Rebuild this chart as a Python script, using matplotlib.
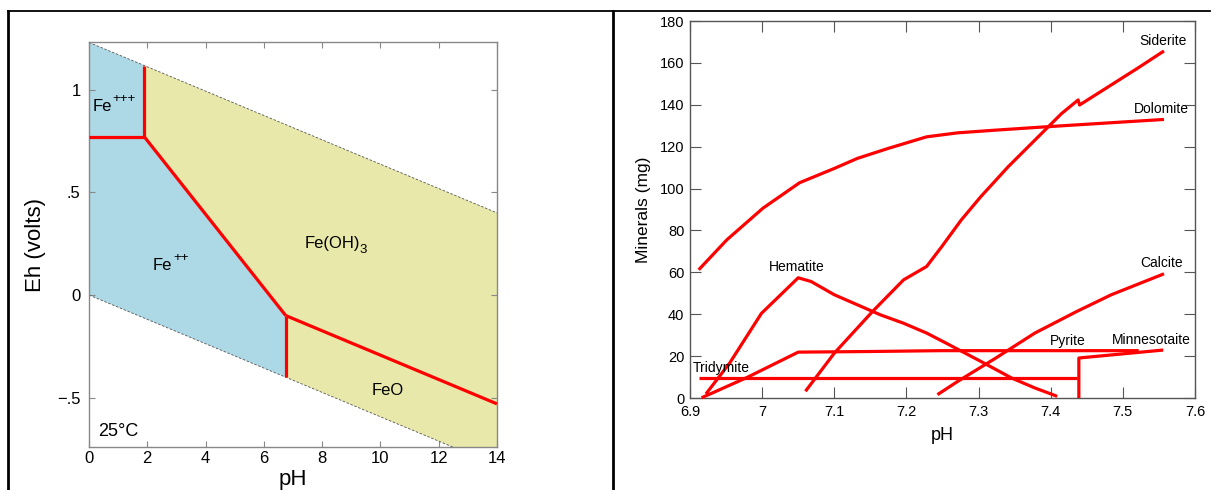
import matplotlib
matplotlib.use("Agg")
import matplotlib.pyplot as plt
from matplotlib.lines import Line2D

plt.rcParams['font.family'] = ['Liberation Sans', 'DejaVu Sans']

# ---------------- Left panel data (Eh-pH diagram of Fe) ----------------
ph_range = [0, 14]
water_upper = [1.23, 0.40]      # O2/H2O line Eh at pH 0 and 14
water_lower = [0.0, -0.83]      # H2/H2O line Eh at pH 0 and 14

fe3_fe2_ph = [0.0, 1.9]
fe3_fe2_eh = [0.77, 0.77]
fe3_feoh3_ph = [1.9, 1.9]
fe3_feoh3_eh = [0.77, 1.117]
fe2_feoh3_ph = [1.9, 6.75]
fe2_feoh3_eh = [0.77, -0.10]
fe2_feo_ph = [6.75, 6.75]
fe2_feo_eh = [-0.10, -0.40]
feoh3_feo_ph = [6.75, 14.0]
feoh3_feo_eh = [-0.10, -0.53]

left_xticks = [0, 2, 4, 6, 8, 10, 12, 14]
left_yticks = [1.0, 0.5, 0.0, -0.5]
left_yticklabels = ['1', '.5', '0', '\u2212.5']

# ---------------- Right panel data (minerals vs pH) ----------------
dolomite_ph = [6.912, 6.951, 7.001, 7.052, 7.100, 7.132, 7.175, 7.228, 7.271, 7.324, 7.394, 7.431, 7.557]
dolomite_mg = [61.2, 75.5, 90.6, 102.8, 109.6, 114.4, 119.2, 124.7, 126.6, 127.9, 129.5, 130.3, 133.0]

siderite_ph = [7.060, 7.100, 7.153, 7.196, 7.228, 7.249, 7.276, 7.303, 7.341, 7.378, 7.415, 7.438, 7.440, 7.484, 7.522, 7.557]
siderite_mg = [3.2, 21.4, 41.3, 56.4, 62.8, 72.3, 85.0, 96.1, 110.4, 123.1, 135.8, 142.3, 139.9, 149.5, 157.8, 165.7]

hematite_ph = [6.922, 6.955, 6.999, 7.050, 7.068, 7.100, 7.164, 7.196, 7.228, 7.255, 7.303, 7.346, 7.378, 7.409]
hematite_mg = [1.9, 16.7, 40.4, 57.4, 55.6, 49.3, 39.7, 35.7, 31.0, 26.2, 17.5, 9.5, 4.8, 0.8]

pyrite_ph = [6.916, 6.979, 7.050, 7.150, 7.247, 7.522]
pyrite_mg = [0.1, 9.8, 21.9, 22.2, 22.6, 22.6]

minnesotaite_ph = [7.439, 7.439, 7.556]
minnesotaite_mg = [0.0, 19.1, 22.9]

tridymite_ph = [6.912, 7.437]
tridymite_mg = [9.5, 9.5]

calcite_ph = [7.243, 7.271, 7.324, 7.378, 7.436, 7.484, 7.557]
calcite_mg = [1.6, 7.9, 19.1, 31.0, 41.3, 49.3, 59.3]

right_xticks = [6.9, 7.0, 7.1, 7.2, 7.3, 7.4, 7.5, 7.6]
right_xticklabels = ['6.9', '7', '7.1', '7.2', '7.3', '7.4', '7.5', '7.6']
right_yticks = [0, 20, 40, 60, 80, 100, 120, 140, 160, 180]

# ---------------- Figure ----------------
W, H = 1213, 490
fig = plt.figure(figsize=(W / 100, H / 100), dpi=100)

# table-like frame lines
fig.add_artist(Line2D([8 / W, 1210 / W], [1 - 11 / H, 1 - 11 / H], color='black', lw=1.3))
fig.add_artist(Line2D([8 / W, 8 / W], [0, 1 - 11 / H], color='black', lw=2.0))
fig.add_artist(Line2D([613 / W, 613 / W], [0, 1 - 11 / H], color='black', lw=2.0))

RED = '#ff0000'
BLUE = '#add8e6'
YELLOW = '#e8e8aa'

# ---- left axes ----
ax1 = fig.add_axes([89 / W, 1 - 447 / H, (497 - 89) / W, (447 - 42) / H])
ax1.set_xlim(0, 14)
ax1.set_ylim(-0.74, 1.232)

def upper(p):
    return water_upper[0] + (water_upper[1] - water_upper[0]) * p / 14.0

def lower(p):
    return water_lower[0] + (water_lower[1] - water_lower[0]) * p / 14.0

blue_poly_x = [0, fe3_feoh3_ph[0], fe3_feoh3_ph[0], fe2_feoh3_ph[1], fe2_feo_ph[1], 0]
blue_poly_y = [upper(0), upper(fe3_feoh3_ph[0]), fe3_feoh3_eh[0], fe2_feoh3_eh[1], lower(fe2_feo_ph[1]), lower(0)]
ax1.fill(blue_poly_x, blue_poly_y, color=BLUE, lw=0, zorder=1)

yellow_poly_x = [fe3_feoh3_ph[0], 14, 14, fe2_feo_ph[0], fe2_feo_ph[0], fe2_feoh3_ph[0]]
yellow_poly_y = [upper(fe3_feoh3_ph[0]), upper(14), lower(14), lower(fe2_feo_ph[0]), fe2_feo_eh[0], fe2_feoh3_eh[0]]
ax1.fill(yellow_poly_x, yellow_poly_y, color=YELLOW, lw=0, zorder=1)

ax1.plot(ph_range, water_upper, color='#555555', lw=0.6, ls=(0, (3, 2)), zorder=2)
ax1.plot(ph_range, water_lower, color='#555555', lw=0.6, ls=(0, (3, 2)), zorder=2)

for xs, ys in [(fe3_fe2_ph, fe3_fe2_eh), (fe3_feoh3_ph, [fe3_feoh3_eh[0], upper(fe3_feoh3_ph[0])]),
               (fe2_feoh3_ph, fe2_feoh3_eh), (fe2_feo_ph, [fe2_feo_eh[0], lower(fe2_feo_ph[0])]),
               (feoh3_feo_ph, feoh3_feo_eh)]:
    ax1.plot(xs, ys, color=RED, lw=2.3, solid_capstyle='butt', zorder=3, clip_on=False)

ax1.set_xticks(left_xticks)
ax1.set_yticks(left_yticks)
ax1.set_yticklabels(left_yticklabels)
ax1.tick_params(direction='in', length=4, width=0.8, color='#888888', labelsize=12,
                top=True, right=True)
ax1.tick_params(axis='x', pad=3)
ax1.tick_params(axis='y', pad=6)
for s in ax1.spines.values():
    s.set_color('#888888')
    s.set_linewidth(1.0)
ax1.set_xlabel('pH', fontsize=16, labelpad=2)
ax1.set_ylabel('Eh (volts)', fontsize=16, labelpad=8)

fig.canvas.draw()
renderer = fig.canvas.get_renderer()


def label_with_script(ax, x, y, base, script, dy, size=12, ssize=9.5, gap=0.3):
    t = ax.text(x, y, base, fontsize=size, ha='left', va='baseline', zorder=4)
    bb = t.get_window_extent(renderer=renderer)
    w = bb.width * 72.0 / fig.dpi
    ax.annotate(script, xy=(x, y), xytext=(w + gap, dy), textcoords='offset points',
                fontsize=ssize, ha='left', va='baseline', zorder=4)


label_with_script(ax1, 0.12, 0.895, 'Fe', '+++', 6.5)
label_with_script(ax1, 2.2, 0.12, 'Fe', '++', 6.5)
label_with_script(ax1, 7.4, 0.23, 'Fe(OH)', '3', -3.5, ssize=9.5, gap=-0.3)
ax1.text(10.25, -0.465, 'FeO', fontsize=12, ha='center', va='center', zorder=4)
ax1.text(0.3, -0.665, '25°C', fontsize=13, ha='left', va='center', zorder=4)

# ---- right axes ----
ax2 = fig.add_axes([690 / W, 1 - 398 / H, (1195 - 690) / W, (398 - 21) / H])
ax2.set_xlim(6.9, 7.6)
ax2.set_ylim(0, 180)

series = [
    (dolomite_ph, dolomite_mg),
    (siderite_ph, siderite_mg),
    (hematite_ph, hematite_mg),
    (pyrite_ph, pyrite_mg),
    (minnesotaite_ph, minnesotaite_mg),
    (tridymite_ph, tridymite_mg),
    (calcite_ph, calcite_mg),
]
for xs, ys in series:
    ax2.plot(xs, ys, color=RED, lw=2.3, solid_capstyle='butt', zorder=3, clip_on=False)

labels = {
    'Siderite': (7.555, 170.5),
    'Dolomite': (7.553, 138.0),
    'Calcite': (7.553, 64.4),
    'Minnesotaite': (7.540, 27.7),
    'Pyrite': (7.423, 27.4),
    'Hematite': (7.048, 62.5),
    'Tridymite': (6.943, 14.4),
}
for name, (x, y) in labels.items():
    ax2.text(x, y, name, fontsize=10, ha='center', va='center', zorder=4)

ax2.set_xticks(right_xticks)
ax2.set_xticklabels(right_xticklabels)
ax2.set_yticks(right_yticks)
ax2.tick_params(direction='in', length=8, width=0.8, color='#555555', labelsize=10.5,
                top=True, right=True)
ax2.tick_params(axis='x', pad=5)
ax2.tick_params(axis='y', pad=4)
for s in ax2.spines.values():
    s.set_color('#555555')
    s.set_linewidth(1.0)
ax2.set_xlabel('pH', fontsize=13, labelpad=6)
ax2.set_ylabel('Minerals (mg)', fontsize=12.5, labelpad=6)

fig.savefig('out.png', dpi=100)
